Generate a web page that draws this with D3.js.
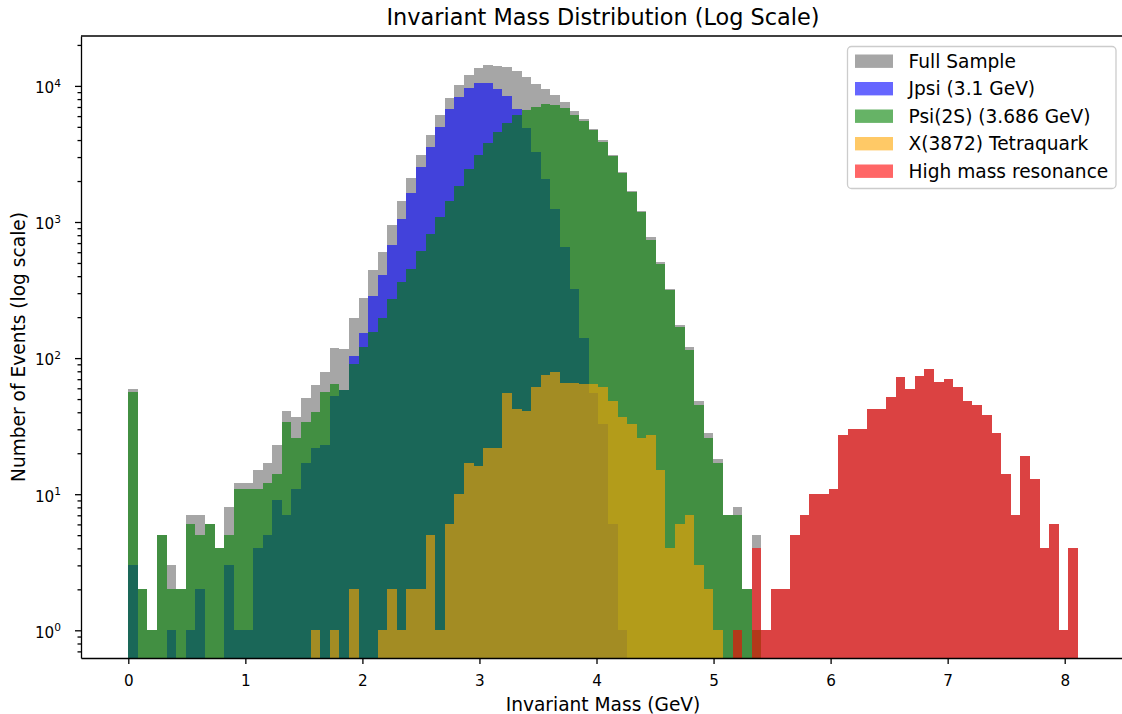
<!DOCTYPE html>
<html>
<head>
<meta charset="utf-8">
<script src="https://cdn.jsdelivr.net/npm/d3@7"></script>
<style>
  body { margin: 0; background: #fff; }
  svg { font-family: "DejaVu Sans", sans-serif; }
</style>
</head>
<body>
<svg id="chart" width="1122" height="714"></svg>
<script>
const binWidth = 0.08195;

const fullSample = [
  59, 2, 1, 5, 3, 2, 7, 7, 6, 4,
  8, 12, 12, 15, 17, 23, 41, 37, 51, 63,
  79, 119, 116, 197, 276, 444, 602, 950, 1427, 2105,
  3106, 4357, 6110, 8147, 10150, 12025, 13540, 14240, 13995, 13770,
  12870, 11630, 10330, 9490, 8570, 7615, 6540, 5715, 4822, 4005,
  3106, 2330, 1690, 1205, 776, 508, 322, 175, 121, 48,
  28, 18, 7, 8, 2, 5, 1, 2, 2, 5,
  7, 10, 10, 11, 27, 30, 30, 42, 42, 52,
  73, 59, 74, 83, 67, 70, 61, 48, 45, 38,
  28, 14, 7, 19, 13, 4, 6, 1, 4
];

const jpsi = [
  3, 0, 0, 0, 1, 0, 1, 2, 0, 0,
  3, 1, 1, 4, 5, 9, 7, 11, 17, 22,
  23, 53, 58, 104, 153, 286, 408, 678, 1052, 1634,
  2536, 3557, 4990, 6765, 8288, 9652, 10500, 10500, 9490, 8430,
  6765, 4905, 3268, 2070, 1246, 655, 322, 140, 55, 33,
  6, 1, 0, 0, 0, 0, 0, 0, 0, 0,
  0, 0, 0, 0, 0, 0, 0, 0, 0, 0,
  0, 0, 0, 0, 0, 0, 0, 0, 0, 0,
  0, 0, 0, 0, 0, 0, 0, 0, 0, 0,
  0, 0, 0, 0, 0, 0, 0, 0, 0
];

const psi2s = [
  56, 2, 1, 5, 2, 2, 6, 5, 6, 4,
  5, 11, 11, 11, 12, 14, 34, 26, 34, 40,
  56, 65, 58, 91, 121, 156, 197, 272, 364, 452,
  612, 820, 1088, 1427, 1849, 2452, 3106, 3807, 4585, 5340,
  6110, 6652, 7000, 7363, 7240, 6880, 6110, 5520, 4745, 3870,
  3054, 2291, 1661, 1184, 738, 491, 317, 169, 115, 45,
  26, 17, 7, 7, 2, 1, 0, 0, 0, 0,
  0, 0, 0, 0, 0, 0, 0, 0, 0, 0,
  0, 0, 0, 0, 0, 0, 0, 0, 0, 0,
  0, 0, 0, 0, 0, 0, 0, 0, 0
];

const x3872 = [
  0, 0, 0, 0, 0, 0, 0, 0, 0, 0,
  0, 0, 0, 0, 0, 0, 0, 0, 0, 1,
  0, 1, 0, 2, 0, 0, 1, 2, 1, 2,
  2, 5, 1, 6, 10, 17, 16, 22, 22, 55,
  42, 41, 61, 75, 79, 66, 66, 65, 64, 61,
  48, 37, 33, 26, 27, 15, 4, 6, 7, 3,
  2, 1, 0, 0, 0, 0, 0, 0, 0, 0,
  0, 0, 0, 0, 0, 0, 0, 0, 0, 0,
  0, 0, 0, 0, 0, 0, 0, 0, 0, 0,
  0, 0, 0, 0, 0, 0, 0, 0, 0
];

const highMass = [
  0, 0, 0, 0, 0, 0, 0, 0, 0, 0,
  0, 0, 0, 0, 0, 0, 0, 0, 0, 0,
  0, 0, 0, 0, 0, 0, 0, 0, 0, 0,
  0, 0, 0, 0, 0, 0, 0, 0, 0, 0,
  0, 0, 0, 0, 0, 0, 0, 0, 0, 0,
  0, 0, 0, 0, 0, 0, 0, 0, 0, 0,
  0, 0, 0, 1, 0, 4, 1, 2, 2, 5,
  7, 10, 10, 11, 27, 30, 30, 42, 42, 52,
  73, 59, 74, 83, 67, 70, 61, 48, 45, 38,
  28, 14, 7, 19, 13, 4, 6, 1, 4
];

const seriesNames = ["Full Sample", "Jpsi (3.1 GeV)", "Psi(2S) (3.686 GeV)", "X(3872) Tetraquark", "High mass resonance"];
const xTicks = [0, 1, 2, 3, 4, 5, 6, 7, 8];
const yTicks = [1, 10, 100, 1000, 10000];

const series = [
  { name: seriesNames[0], values: fullSample, color: "gray", alpha: 0.7 },
  { name: seriesNames[1], values: jpsi, color: "blue", alpha: 0.6 },
  { name: seriesNames[2], values: psi2s, color: "green", alpha: 0.6 },
  { name: seriesNames[3], values: x3872, color: "orange", alpha: 0.6 },
  { name: seriesNames[4], values: highMass, color: "red", alpha: 0.6 }
];

const margin = { left: 81, right: 1125, top: 36, bottom: 658 };
const svg = d3.select("svg#chart");

const x = d3.scaleLinear().domain([-0.4041, 8.5151]).range([margin.left, margin.right]);
const y = d3.scaleLog().domain([0.6259, 23262]).range([margin.bottom, margin.top]);

svg.append("clipPath").attr("id", "plot-clip")
  .append("rect")
  .attr("x", margin.left).attr("y", margin.top)
  .attr("width", margin.right - margin.left).attr("height", margin.bottom - margin.top);

const barLayer = svg.append("g").attr("clip-path", "url(#plot-clip)");

series.forEach(({ values, color, alpha }) => {
  const bins = values
    .map((v, i) => ({ x0: i * binWidth, x1: (i + 1) * binWidth, v }))
    .filter(({ v }) => v > 0);

  barLayer.append("g")
    .attr("fill", color)
    .attr("fill-opacity", alpha)
    .attr("shape-rendering", "crispEdges")
    .selectAll("rect")
    .data(bins)
    .join("rect")
    .attr("x", ({ x0 }) => Math.round(x(x0)))
    .attr("width", ({ x0, x1 }) => Math.round(x(x1)) - Math.round(x(x0)))
    .attr("y", ({ v }) => Math.round(y(v)))
    .attr("height", ({ v }) => margin.bottom - Math.round(y(v)));
});

const minorTicks = d3.range(-1, 5)
  .flatMap(e => d3.range(2, 10).map(m => m * 10 ** e))
  .filter(v => v >= y.domain()[0] && v <= y.domain()[1]);

const styleAxis = g => {
  g.selectAll("path, line").attr("stroke", "#000").attr("stroke-width", 1.3);
  g.attr("font-family", "DejaVu Sans, sans-serif").attr("font-size", 15.2);
  g.selectAll("text").attr("fill", "#000");
};

svg.append("g")
  .attr("transform", `translate(0,${margin.bottom})`)
  .call(d3.axisBottom(x).tickValues(xTicks).tickFormat(d3.format("d")).tickSize(6).tickSizeOuter(0).tickPadding(11))
  .call(styleAxis);

svg.append("g")
  .attr("transform", `translate(${margin.left},0)`)
  .call(d3.axisLeft(y).tickValues(minorTicks).tickFormat("").tickSize(3.5).tickSizeOuter(0))
  .call(styleAxis)
  .select(".domain").remove();

const yAxis = svg.append("g")
  .attr("transform", `translate(${margin.left},0)`)
  .call(d3.axisLeft(y).tickValues(yTicks).tickFormat("").tickSize(6).tickSizeOuter(0).tickPadding(14))
  .call(styleAxis);

yAxis.selectAll(".tick text")
  .attr("dy", "0.45em")
  .call(t => t.append("tspan").text("10"))
  .call(t => t.append("tspan").attr("dy", "-0.62em").attr("font-size", "0.7em").text(d => Math.round(Math.log10(d))));

svg.append("line")
  .attr("x1", margin.left).attr("x2", margin.right)
  .attr("y1", margin.top).attr("y2", margin.top)
  .attr("stroke", "#000").attr("stroke-width", 1.3);

svg.append("line")
  .attr("x1", margin.right).attr("x2", margin.right)
  .attr("y1", margin.top).attr("y2", margin.bottom)
  .attr("stroke", "#000").attr("stroke-width", 1.3);

const centerX = (margin.left + margin.right) / 2;

svg.append("text")
  .attr("x", centerX).attr("y", 25)
  .attr("text-anchor", "middle")
  .attr("font-size", 22.4)
  .text("Invariant Mass Distribution (Log Scale)");

svg.append("text")
  .attr("x", centerX).attr("y", 711)
  .attr("text-anchor", "middle")
  .attr("font-size", 18.6)
  .text("Invariant Mass (GeV)");

svg.append("text")
  .attr("transform", `translate(25,${(margin.top + margin.bottom) / 2}) rotate(-90)`)
  .attr("text-anchor", "middle")
  .attr("font-size", 18.6)
  .text("Number of Events (log scale)");

const legend = svg.append("g").attr("transform", "translate(847.5,46.5)");

legend.append("rect")
  .attr("width", 268.5).attr("height", 142)
  .attr("rx", 4)
  .attr("fill", "#fff").attr("fill-opacity", 0.8)
  .attr("stroke", "#cccccc").attr("stroke-width", 1.3);

const rows = legend.selectAll("g.row")
  .data(series)
  .join("g")
  .attr("class", "row")
  .attr("transform", (d, i) => `translate(0,${8 + i * 27.5})`);

rows.append("rect")
  .attr("x", 7.5).attr("width", 38).attr("height", 13.4)
  .attr("fill", ({ color }) => color)
  .attr("fill-opacity", ({ alpha }) => alpha);

rows.append("text")
  .attr("x", 61).attr("y", 13.4)
  .attr("font-size", 18.6)
  .text(({ name }) => name);
</script>
</body>
</html>
